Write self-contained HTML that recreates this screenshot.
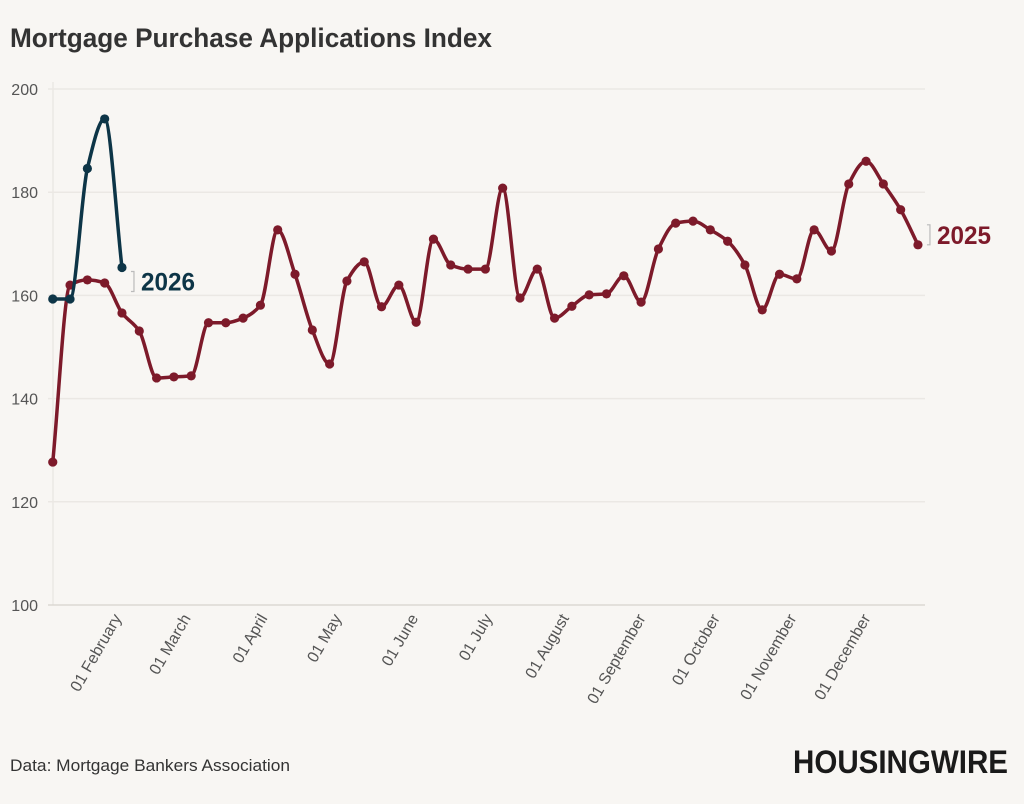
<!DOCTYPE html>
<html><head><meta charset="utf-8"><style>
body{margin:0;background:#f8f6f3;width:1024px;height:799px;overflow:hidden;font-family:"Liberation Sans Narrow","Liberation Sans",sans-serif}
</style></head><body>
<svg width="1024" height="799">
<rect width="1024" height="799" fill="#f8f6f3"/>
<text x="10" y="47" font-size="27" font-weight="bold" fill="#333" textLength="482" lengthAdjust="spacingAndGlyphs">Mortgage Purchase Applications Index</text>
<g id="grid"></g><g id="xaxis"></g><g id="lines"></g>
<text x="10" y="771" font-size="17" fill="#333" textLength="280" lengthAdjust="spacingAndGlyphs">Data: Mortgage Bankers Association</text>
<text x="1008" y="773" font-size="32" font-weight="bold" fill="#1a1a1a" text-anchor="end" textLength="215" lengthAdjust="spacingAndGlyphs">HOUSINGWIRE</text>
</svg>
<script>
const yTicks=[100,120,140,160,180,200];
const months=["01 February","01 March","01 April","01 May","01 June","01 July","01 August","01 September","01 October","01 November","01 December"];
const monthDays=[31,59,90,120,151,181,212,243,273,304,334];
const v2025=[127.7,162,163,162.4,156.6,153.1,144,144.2,144.4,154.7,154.7,155.6,158.1,172.7,164.1,153.3,146.7,162.8,166.5,157.8,162,154.8,170.9,165.9,165.1,165.1,180.8,159.5,165.1,155.6,157.9,160.1,160.3,163.8,158.7,169,174,174.4,172.7,170.5,165.9,157.2,164.1,163.2,172.7,168.6,181.6,186,181.6,176.6,169.8];
const v2026=[159.3,159.3,184.6,194.2,165.4];
const NS="http://www.w3.org/2000/svg";
const X=d=>40.4+d*2.472, Y=v=>605-(v-100)*5.16;
function mk(t,a,p){const e=document.createElementNS(NS,t);for(const k in a)e.setAttribute(k,a[k]);p.appendChild(e);return e;}
const grid=document.getElementById('grid'),xa=document.getElementById('xaxis'),lines=document.getElementById('lines');
mk('line',{x1:53,x2:53,y1:82,y2:605,stroke:'#ebe8e4','stroke-width':1.5},grid);
yTicks.forEach(v=>{
 const l=mk('line',{x1:48,x2:925,y1:Y(v),y2:Y(v),stroke:v==100?'#dcd8d3':'#ebe8e4','stroke-width':1.5},grid);
 
 
 const t=mk('text',{x:38,y:Y(v)+6,'font-size':16,fill:'#555','text-anchor':'end'},grid);t.textContent=v;
 
 
});
months.forEach((m,i)=>{
 const x=X(monthDays[i]);
 const t=mk('text',{transform:`translate(${x+5},${618}) rotate(-60)`,'font-size':16,fill:'#555','text-anchor':'end'},xa);t.textContent=m;
 
 
});
function path(pts){
 const n=pts.length,m=[],s=[];
 for(let i=0;i<n-1;i++)s.push((pts[i+1][1]-pts[i][1])/(pts[i+1][0]-pts[i][0]));
 for(let i=0;i<n;i++){
  if(i==0)m.push(s[0]);else if(i==n-1)m.push(s[n-2]);
  else m.push(s[i-1]*s[i]<=0?0:2/(1/s[i-1]+1/s[i]));
 }
 let d=`M${pts[0][0]},${pts[0][1]}`;
 for(let i=0;i<n-1;i++){const h=(pts[i+1][0]-pts[i][0])/3;
  d+=` C${pts[i][0]+h},${pts[i][1]+m[i]*h} ${pts[i+1][0]-h},${pts[i+1][1]-m[i+1]*h} ${pts[i+1][0]},${pts[i+1][1]}`;}
 return d;}
function series(vals,col,name){
 const pts=vals.map((v,i)=>[X(5+7*i),Y(v)]);
 const p=mk('path',{d:path(pts),fill:'none',stroke:col,'stroke-width':3.5},lines);
 
 
 pts.forEach(q=>{const c=mk('circle',{cx:q[0],cy:q[1],r:4.6,fill:col},lines);
  
  });
 return pts[pts.length-1];
}
const e25=series(v2025,'#7d1a2a','2025');
const e26=series(v2026,'#0d3547','2026');
function lab(e,txt,col,dy){
 mk('path',{d:`M${e[0]+9},${e[1]+dy-10} h3 v20 h-3`,fill:'none',stroke:'#bbb','stroke-width':1.2},lines);
 const t=mk('text',{x:e[0]+19,y:e[1]+dy+9,'font-size':25,'font-weight':'bold',fill:col,textLength:54,lengthAdjust:'spacingAndGlyphs'},lines);t.textContent=txt;
 
 
}
lab(e26,'2026','#0d3547',14);lab(e25,'2025','#7d1a2a',-10);
</script>
</body></html>
